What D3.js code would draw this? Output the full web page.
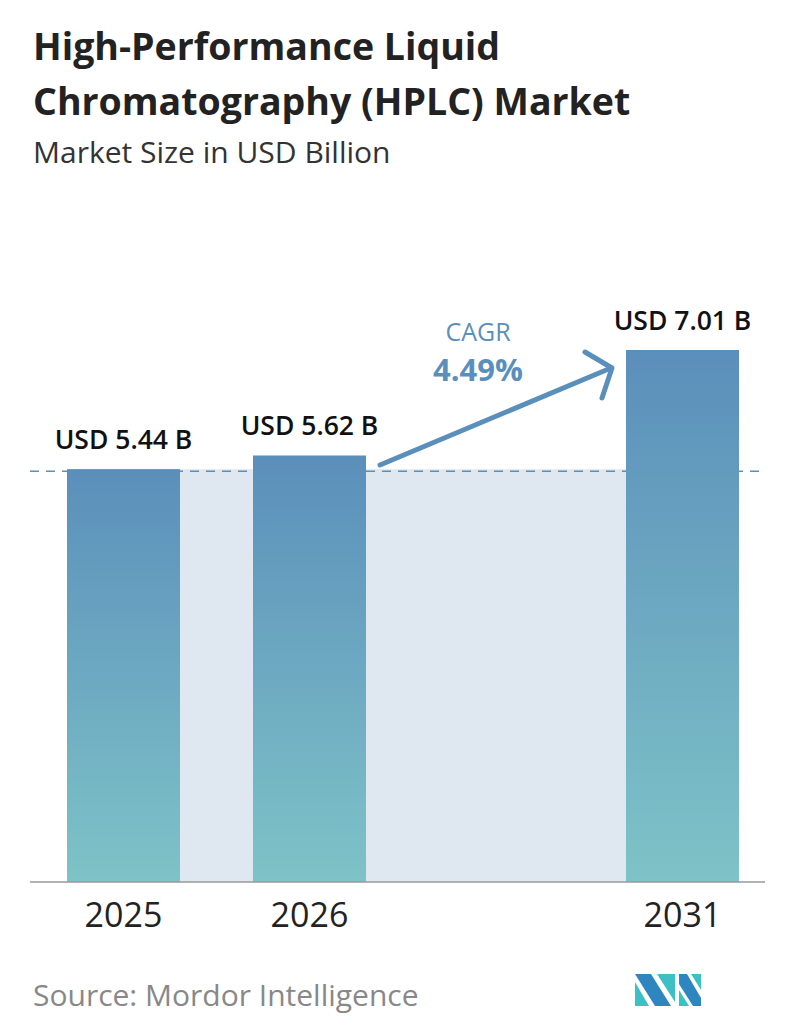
<!DOCTYPE html><html><head><meta charset="utf-8"><script src="https://cdn.jsdelivr.net/npm/d3@7"></script>
<style>body{margin:0;background:#fff}text{font-family:"Open Sans","Noto Sans",sans-serif}</style></head><body>
<svg id="c" width="796" height="1034"></svg>
<script>
const categories=["2025","2026","2031"];
const values=[5.44,5.62,7.01];
const valueLabels=["USD 5.44 B","USD 5.62 B","USD 7.01 B"];
const cagrLabel="CAGR", cagrValue="4.49%";
const svg=d3.select("#c");
const base=882;
const y=d3.scaleLinear().domain([0,7.01]).range([base,350]);
const x=d3.scaleOrdinal().domain(categories).range([67,253,626]);
const bw=113;
const defs=svg.append("defs");
const g=defs.append("linearGradient").attr("id","bg").attr("x1",0).attr("y1",0).attr("x2",0).attr("y2",1);
g.append("stop").attr("offset",0).attr("stop-color","#5b8fbb");
g.append("stop").attr("offset",1).attr("stop-color","#7ec3c7");
svg.append("text").attr("x",33).attr("y",60).attr("font-size",37.5).attr("font-weight",700).attr("fill","#222").text("High-Performance Liquid");
svg.append("text").attr("x",33).attr("y",115).attr("font-size",37.5).attr("font-weight",700).attr("fill","#222").text("Chromatography (HPLC) Market");
svg.append("text").attr("x",33).attr("y",163).attr("font-size",30).attr("fill","#333").text("Market Size in USD Billion");
svg.append("rect").attr("x",x("2025")).attr("y",y(values[0])).attr("width",x("2031")+bw-x("2025")).attr("height",base-y(values[0])).attr("fill","#dfe8f1");
svg.append("line").attr("x1",30).attr("x2",765).attr("y1",y(values[0])+2).attr("y2",y(values[0])+2).attr("stroke","#5b8fbb").attr("stroke-width",1.5).attr("stroke-dasharray","9,7");
svg.selectAll(".b").data(categories).enter().append("rect").attr("x",d=>x(d)).attr("y",(d,i)=>y(values[i])).attr("width",bw).attr("height",(d,i)=>base-y(values[i])).attr("fill","url(#bg)");
svg.selectAll(".v").data(categories).enter().append("text").attr("x",d=>x(d)+bw/2).attr("y",(d,i)=>y(values[i])-20).attr("text-anchor","middle").attr("font-size",26.5).attr("font-weight",600).attr("fill","#111").text((d,i)=>valueLabels[i]);
svg.append("line").attr("x1",30).attr("x2",765).attr("y1",base).attr("y2",base).attr("stroke","#999").attr("stroke-width",1.5);
svg.selectAll(".t").data(categories).enter().append("text").attr("x",d=>x(d)+bw/2).attr("y",927).attr("text-anchor","middle").attr("font-size",34).attr("font-weight",500).attr("fill","#222").text(d=>d);
svg.append("line").attr("x1",380).attr("y1",465).attr("x2",611).attr("y2",368).attr("stroke","#5b8fbb").attr("stroke-width",5).attr("stroke-linecap","round");
svg.append("path").attr("d","M585,352 L612,368 L602,398").attr("fill","none").attr("stroke","#5b8fbb").attr("stroke-width",5).attr("stroke-linecap","round").attr("stroke-linejoin","round");
svg.append("text").attr("x",478).attr("y",341).attr("text-anchor","middle").attr("font-size",25).attr("fill","#5b8fbb").text(cagrLabel);
svg.append("text").attr("x",478).attr("y",381).attr("text-anchor","middle").attr("font-size",31).attr("font-weight",700).attr("fill","#5b8fbb").text(cagrValue);
svg.append("text").attr("x",33).attr("y",1006).attr("font-size",30).attr("fill","#888").text("Source:  Mordor Intelligence");
const lg=svg.append("g").attr("transform","translate(635,974)");
lg.append("polygon").attr("points","0,0 16,0 36,32 20,32").attr("fill","#2e86c1");
lg.append("polygon").attr("points","0,8 0,32 14,32").attr("fill","#3cc0c6");
lg.append("polygon").attr("points","22,0 40,0 40,28").attr("fill","#3cc0c6");
lg.append("polygon").attr("points","44,0 52,0 66,24 66,32 58,32 44,10").attr("fill","#2e86c1");
lg.append("polygon").attr("points","44,16 44,32 54,32").attr("fill","#3cc0c6");
lg.append("polygon").attr("points","56,0 66,0 66,16").attr("fill","#3cc0c6");
</script></body></html>
